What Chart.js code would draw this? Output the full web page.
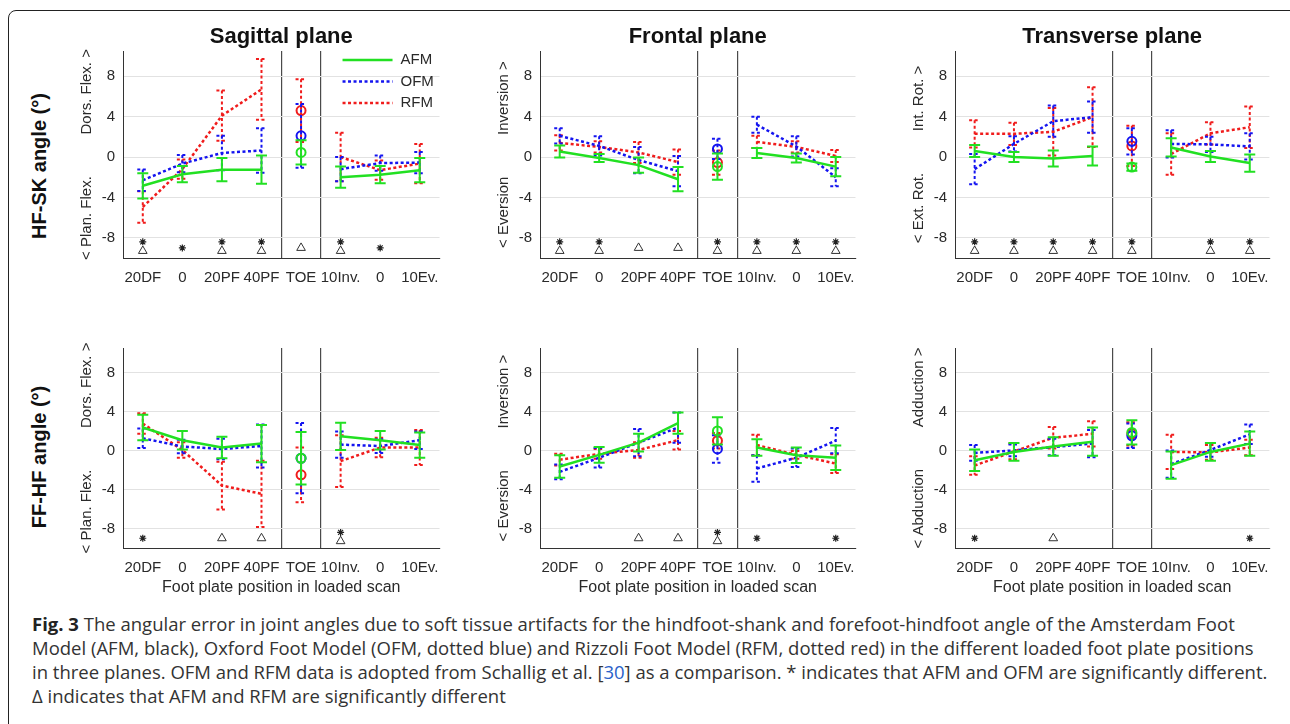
<!DOCTYPE html>
<html>
<head>
<meta charset="utf-8">
<script src="https://cdn.jsdelivr.net/npm/chart.js@4.4.1/dist/chart.umd.min.js"></script>
<style>
  body { margin:0; background:#fff; width:1290px; height:724px; overflow:hidden; position:relative; font-family:"Liberation Sans", Arial, sans-serif; }
  #frame { position:absolute; left:8px; top:10px; width:1300px; height:730px; border:1.5px solid #222; border-radius:8px; box-sizing:border-box; }
  canvas { position:absolute; }
  .rowlab { position:absolute; width:220px; height:24px; line-height:24px; text-align:center; font:bold 20px "Liberation Sans", Arial, sans-serif; color:#111; transform:rotate(-90deg); white-space:nowrap; }
  #caption { position:absolute; left:32px; top:612px; font:18.5px/24px "Open Sans", sans-serif; color:#333; white-space:nowrap; }
  #caption b { color:#222; }
  #caption a { color:#2a62c9; text-decoration:none; }
</style>
</head>
<body>
<div id="frame"></div>
<div class="rowlab" style="left:-70px; top:154px;">HF-SK angle (°)</div>
<div class="rowlab" style="left:-70px; top:445px;">FF-HF angle (°)</div>

<canvas id="p1" width="377" height="288" style="left:73px; top:0px;"></canvas>
<canvas id="p2" width="376" height="288" style="left:490px; top:0px;"></canvas>
<canvas id="p3" width="375" height="288" style="left:905px; top:0px;"></canvas>
<canvas id="p4" width="377" height="267" style="left:73px; top:331px;"></canvas>
<canvas id="p5" width="376" height="267" style="left:490px; top:331px;"></canvas>
<canvas id="p6" width="375" height="267" style="left:905px; top:331px;"></canvas>

<div id="caption">
  <b>Fig. 3</b> The angular error in joint angles due to soft tissue artifacts for the hindfoot-shank and forefoot-hindfoot angle of the Amsterdam Foot<br>
  Model (AFM, black), Oxford Foot Model (OFM, dotted blue) and Rizzoli Foot Model (RFM, dotted red) in the different loaded foot plate positions<br>
  in three planes. OFM and RFM data is adopted from Schallig et al. [<a>30</a>] as a comparison. * indicates that AFM and OFM are significantly different.<br>
  Δ indicates that AFM and RFM are significantly different
</div>

<script>
// categories and ticks
const positions = ['20DF', '0', '20PF', '40PF', 'TOE', '10Inv.', '0', '10Ev.'];
const yTickValues = [-8, -4, 0, 4, 8];

// HF-SK angle, sagittal plane (mean, error)
const hsSagAFM = [-2.85, -1.7, -1.25, -1.25, 0.45, -2.0, -1.75, -1.3];
const hsSagAFMerr = [1.25, 0.8, 1.15, 1.4, 1.2, 1.05, 0.85, 1.2];
const hsSagOFM = [-2.3, -0.65, 0.4, 0.65, 2.1, -1.2, -0.6, -0.55];
const hsSagOFMerr = [1.07, 0.85, 1.7, 2.2, 3.15, 1.2, 0.75, 1.05];
const hsSagRFM = [-4.95, -1.2, 4.1, 6.7, 4.6, 0.0, -1.3, -0.65];
const hsSagRFMerr = [1.55, 0.95, 2.5, 3.0, 3.1, 2.4, 0.95, 1.95];
const hsSagStar = [1, 1, 1, 1, 0, 1, 1, 0];
const hsSagTri  = [1, 0, 1, 1, 1, 1, 0, 0];

// HF-SK angle, frontal plane
const hsFroAFM = [0.55, -0.1, -0.8, -2.2, -0.95, 0.4, -0.1, -0.95];
const hsFroAFMerr = [0.6, 0.4, 0.75, 1.2, 1.3, 0.5, 0.45, 0.95];
const hsFroOFM = [2.1, 1.1, -0.3, -1.4, 0.8, 3.2, 1.05, -2.0];
const hsFroOFMerr = [0.75, 0.95, 1.3, 1.5, 1.0, 0.8, 1.0, 0.9];
const hsFroRFM = [1.4, 1.0, 0.45, -0.5, -0.55, 1.5, 1.0, 0.1];
const hsFroRFMerr = [0.75, 0.55, 1.05, 1.25, 1.2, 0.6, 0.55, 0.6];
const hsFroStar = [1, 1, 0, 0, 1, 1, 1, 1];
const hsFroTri  = [1, 1, 1, 1, 1, 1, 1, 1];

// HF-SK angle, transverse plane
const hsTraAFM = [0.6, 0.0, -0.15, 0.1, -1.0, 0.95, 0.05, -0.6];
const hsTraAFMerr = [0.6, 0.5, 0.8, 0.95, 0.35, 0.9, 0.55, 0.85];
const hsTraOFM = [-1.2, 1.3, 3.55, 3.95, 1.55, 1.3, 1.25, 1.05];
const hsTraOFMerr = [1.5, 0.75, 1.55, 1.55, 1.3, 1.35, 0.75, 1.3];
const hsTraRFM = [2.3, 2.3, 2.5, 3.95, 1.1, 0.3, 2.35, 2.95];
const hsTraRFMerr = [1.35, 1.1, 2.35, 2.95, 2.0, 2.05, 1.1, 2.05];
const hsTraStar = [1, 1, 1, 1, 1, 0, 1, 1];
const hsTraTri  = [1, 1, 1, 1, 1, 0, 1, 1];

// FF-HF angle, sagittal plane
const fhSagAFM = [2.35, 1.05, 0.3, 0.7, -0.8, 1.45, 1.05, 0.55];
const fhSagAFMerr = [1.3, 0.95, 1.1, 1.9, 2.7, 1.4, 0.95, 1.3];
const fhSagOFM = [1.25, 0.4, 0.15, 0.45, -0.8, 0.6, 0.45, 1.05];
const fhSagOFMerr = [1.0, 0.7, 1.05, 2.2, 3.6, 1.35, 0.7, 0.9];
const fhSagRFM = [2.75, 0.05, -3.6, -4.45, -2.5, -1.1, 0.3, 0.3];
const fhSagRFMerr = [1.05, 0.8, 2.45, 3.4, 2.8, 2.65, 1.0, 1.8];
const fhSagStar = [1, 0, 0, 0, 0, 1, 0, 0];
const fhSagTri  = [0, 0, 1, 1, 0, 1, 0, 0];

// FF-HF angle, frontal plane
const fhFroAFM = [-1.65, -0.45, 0.8, 2.8, 2.0, 0.3, -0.5, -0.75];
const fhFroAFMerr = [1.15, 0.8, 0.9, 1.1, 1.4, 0.85, 0.8, 1.25];
const fhFroOFM = [-2.2, -0.75, 0.8, 2.35, 0.15, -1.85, -0.75, 1.0];
const fhFroOFMerr = [0.75, 1.0, 1.4, 1.55, 1.4, 1.35, 0.95, 1.3];
const fhFroRFM = [-0.95, -0.35, 0.05, 1.05, 1.0, 0.55, -0.45, -1.35];
const fhFroRFMerr = [0.6, 0.5, 0.8, 0.95, 0.8, 1.05, 0.4, 0.95];
const fhFroStar = [0, 0, 0, 0, 1, 1, 0, 1];
const fhFroTri  = [0, 0, 1, 1, 1, 0, 0, 0];

// FF-HF angle, transverse plane
const fhTraAFM = [-1.0, -0.15, 0.4, 0.9, 1.85, -1.5, -0.15, 0.7];
const fhTraAFMerr = [1.1, 0.9, 0.95, 1.45, 1.25, 1.4, 0.9, 1.25];
const fhTraOFM = [-0.25, 0.0, 0.35, 0.7, 1.5, -1.4, 0.05, 1.65];
const fhTraOFMerr = [0.8, 0.6, 0.85, 1.4, 1.25, 1.4, 0.7, 1.0];
const fhTraRFM = [-1.55, -0.1, 1.3, 1.7, 1.7, -0.15, -0.2, 0.3];
const fhTraRFMerr = [0.95, 0.8, 1.1, 1.3, 1.2, 1.75, 0.75, 0.8];
const fhTraStar = [1, 0, 0, 0, 0, 0, 0, 1];
const fhTraTri  = [0, 0, 1, 0, 0, 0, 0, 0];

const TOE = 4;
const green = '#22e022', blue = '#1414f0', red = '#f01c1c';
const dotted = [3, 2.5];
const textCol = '#2a2a2a';

Chart.defaults.font.family = '"Liberation Sans", Arial, sans-serif';
Chart.defaults.color = textCol;

// vertical error bars with caps, drawn in the series style
const errorBars = {
  id: 'errorBars',
  afterDatasetDraw(chart, args) {
    const ds = chart.data.datasets[args.index];
    if (!ds.errMean) return;
    const {ctx, scales: {x, y}} = chart;
    ctx.save();
    ctx.strokeStyle = ds.borderColor;
    ctx.lineWidth = 2;
    ctx.setLineDash(ds.borderDash || []);
    ds.errMean.forEach((m, i) => {
      const e = ds.errSize[i];
      const px = x.getPixelForValue(i);
      const top = y.getPixelForValue(m + e), bot = y.getPixelForValue(m - e);
      ctx.beginPath();
      ctx.moveTo(px, top); ctx.lineTo(px, bot);
      ctx.moveTo(px - 5.5, top); ctx.lineTo(px + 5.5, top);
      ctx.moveTo(px - 5.5, bot); ctx.lineTo(px + 5.5, bot);
      ctx.stroke();
    });
    ctx.restore();
  }
};

// title centred on the plot area
const panelTitle = {
  id: 'panelTitle',
  afterDraw(chart, args, opts) {
    if (!opts.text) return;
    const {ctx, chartArea} = chart;
    ctx.save();
    ctx.font = 'bold 22px "Liberation Sans", Arial, sans-serif';
    ctx.fillStyle = '#111';
    ctx.textAlign = 'center';
    ctx.textBaseline = 'middle';
    ctx.fillText(opts.text, (chartArea.left + chartArea.right) / 2, chartArea.top - 14);
    ctx.restore();
  }
};

// legend in the top right corner of the plot area
const insideLegend = {
  id: 'insideLegend',
  afterDraw(chart, args, opts) {
    if (!opts.show) return;
    const {ctx, chartArea} = chart;
    const series = chart.data.datasets.filter(d => d.errMean);
    ctx.save();
    ctx.font = '15px "Liberation Sans", Arial, sans-serif';
    ctx.textBaseline = 'middle';
    series.forEach((d, k) => {
      const yy = chartArea.top + 9 + k * 21.5;
      ctx.strokeStyle = d.borderColor;
      ctx.lineWidth = 2.5;
      ctx.setLineDash(d.borderDash || []);
      ctx.beginPath();
      ctx.moveTo(chartArea.right - 97, yy);
      ctx.lineTo(chartArea.right - 47, yy);
      ctx.stroke();
      ctx.fillStyle = textCol;
      ctx.fillText(d.label, chartArea.right - 39, yy);
    });
    ctx.restore();
  }
};

function seriesSets(label, mean, err, color, dash) {
  return [
    {
      label, data: mean.map((v, i) => i === TOE ? null : v),
      borderColor: color, borderWidth: 2.5, borderDash: dash,
      pointRadius: 0, spanGaps: false, tension: 0, fill: false,
      errMean: mean, errSize: err
    },
    {
      label: label + ' TOE', data: mean.map((v, i) => i === TOE ? v : null),
      showLine: false, pointStyle: 'circle', pointRadius: 4.5,
      pointBorderWidth: 2, pointBorderColor: color, pointBackgroundColor: 'rgba(0,0,0,0)'
    }
  ];
}

function markerSets(star, tri) {
  return [
    {
      label: 'AFM vs OFM', showLine: false,
      data: star.map((s, i) => s ? (tri[i] ? -8.4 : -9.0) : null),
      pointStyle: 'star', pointRadius: 3.5, pointBorderWidth: 1.2, pointBorderColor: '#222'
    },
    {
      label: 'AFM vs RFM', showLine: false,
      data: tri.map((t, i) => t ? (star[i] ? -9.3 : -9.0) : null),
      pointStyle: 'triangle', pointRadius: 5, pointBorderWidth: 1, pointBorderColor: '#333', pointBackgroundColor: '#fff'
    }
  ];
}

function makePanel(id, o) {
  const topRow = !!o.title;
  new Chart(document.getElementById(id), {
    type: 'line',
    data: {
      labels: positions,
      datasets: [
        ...seriesSets('AFM', o.afm, o.afmErr, green, []),
        ...seriesSets('OFM', o.ofm, o.ofmErr, blue, dotted),
        ...seriesSets('RFM', o.rfm, o.rfmErr, red, dotted),
        ...markerSets(o.star, o.tri)
      ]
    },
    options: {
      responsive: false,
      animation: false,
      devicePixelRatio: 1,
      events: [],
      layout: { padding: { left: 0, right: 10, top: topRow ? 51 : 10, bottom: 0 } },
      plugins: {
        legend: { display: false },
        tooltip: { enabled: false },
        panelTitle: { text: o.title },
        insideLegend: { show: !!o.legend }
      },
      scales: {
        x: {
          type: 'category',
          offset: true,
          grid: {
            offset: true,
            drawTicks: false,
            color: ctx => (ctx.index === TOE || ctx.index === TOE + 1) ? '#4a4a4a' : 'rgba(0,0,0,0)',
            lineWidth: 1.2
          },
          border: { display: true, color: '#333', width: 1 },
          ticks: { padding: 11, autoSkip: false, maxRotation: 0, font: { size: 15 }, color: textCol },
          title: { display: !topRow, text: 'Foot plate position in loaded scan', font: { size: 16 }, color: textCol, padding: { top: 0, bottom: 1 } },
          afterFit: s => { s.height = topRow ? 30 : 50; }
        },
        y: {
          min: -10, max: 10.5,
          afterBuildTicks: s => { s.ticks = yTickValues.map(v => ({ value: v })); },
          grid: { color: '#e2e2e2', drawTicks: false, lineWidth: 1 },
          border: { display: true, color: '#333', width: 1 },
          ticks: { padding: 8, font: { size: 15 }, color: textCol },
          title: { display: true, text: o.yLow + ' '.repeat(10) + o.yHigh, font: { size: 15 }, color: textCol, padding: { top: 5, bottom: 0 } },
          afterFit: s => { s.width = 50; }
        }
      }
    },
    plugins: [errorBars, panelTitle, insideLegend]
  });
}

makePanel('p1', { title: 'Sagittal plane', legend: true, yLow: '< Plan. Flex.', yHigh: 'Dors. Flex. >',
  afm: hsSagAFM, afmErr: hsSagAFMerr, ofm: hsSagOFM, ofmErr: hsSagOFMerr, rfm: hsSagRFM, rfmErr: hsSagRFMerr, star: hsSagStar, tri: hsSagTri });
makePanel('p2', { title: 'Frontal plane', yLow: '< Eversion', yHigh: 'Inversion >',
  afm: hsFroAFM, afmErr: hsFroAFMerr, ofm: hsFroOFM, ofmErr: hsFroOFMerr, rfm: hsFroRFM, rfmErr: hsFroRFMerr, star: hsFroStar, tri: hsFroTri });
makePanel('p3', { title: 'Transverse plane', yLow: '< Ext. Rot.', yHigh: 'Int. Rot. >',
  afm: hsTraAFM, afmErr: hsTraAFMerr, ofm: hsTraOFM, ofmErr: hsTraOFMerr, rfm: hsTraRFM, rfmErr: hsTraRFMerr, star: hsTraStar, tri: hsTraTri });
makePanel('p4', { yLow: '< Plan. Flex.', yHigh: 'Dors. Flex. >',
  afm: fhSagAFM, afmErr: fhSagAFMerr, ofm: fhSagOFM, ofmErr: fhSagOFMerr, rfm: fhSagRFM, rfmErr: fhSagRFMerr, star: fhSagStar, tri: fhSagTri });
makePanel('p5', { yLow: '< Eversion', yHigh: 'Inversion >',
  afm: fhFroAFM, afmErr: fhFroAFMerr, ofm: fhFroOFM, ofmErr: fhFroOFMerr, rfm: fhFroRFM, rfmErr: fhFroRFMerr, star: fhFroStar, tri: fhFroTri });
makePanel('p6', { yLow: '< Abduction', yHigh: 'Adduction >',
  afm: fhTraAFM, afmErr: fhTraAFMerr, ofm: fhTraOFM, ofmErr: fhTraOFMerr, rfm: fhTraRFM, rfmErr: fhTraRFMerr, star: fhTraStar, tri: fhTraTri });
</script>
</body>
</html>
